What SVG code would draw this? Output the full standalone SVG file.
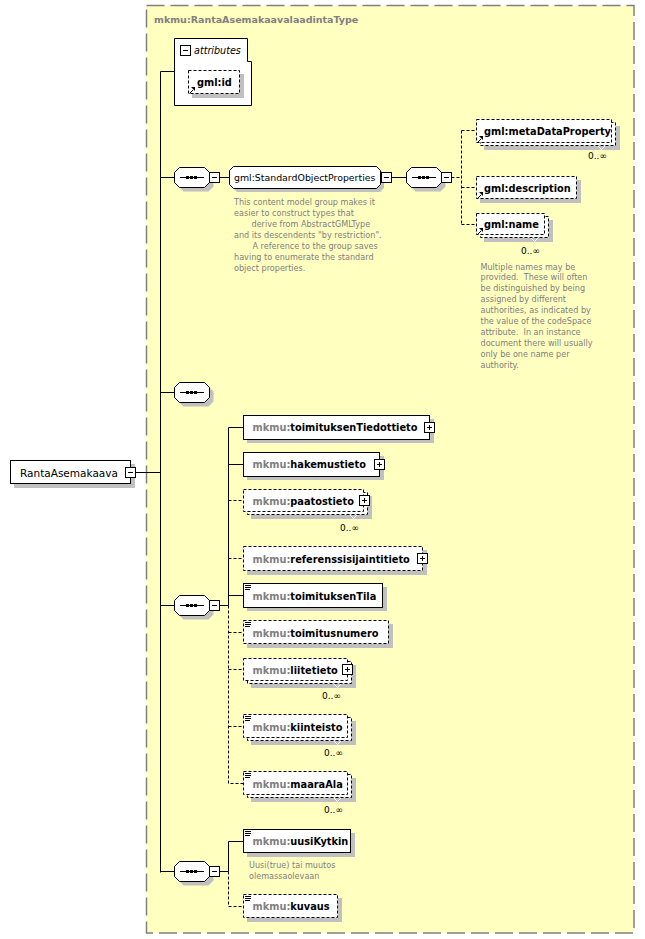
<svg xmlns="http://www.w3.org/2000/svg" xmlns:xlink="http://www.w3.org/1999/xlink" width="645" height="939" viewBox="0 0 645 939">
<style>
text{font-family:"DejaVu Sans",Verdana,sans-serif}
.lbl{font-weight:bold;font-size:9.8px;fill:#000}
.pre{fill:#808080}
.reg{font-size:9.4px;fill:#000}
.ann{font-size:8.1px;fill:#808080}
.occ{font-size:9px;fill:#000}
.box{fill:#fff;stroke:#000;stroke-width:1}
.dbox{fill:#fff;stroke:#000;stroke-width:1;stroke-dasharray:3,2}
.sh{fill:#c0c0c0}
.ln{stroke:#000;stroke-width:1;fill:none}
.dl{stroke:#000;stroke-width:1;fill:none;stroke-dasharray:3,2}
.v{stroke:#fff;stroke-width:1;fill:none}
</style>
<defs>
<g id="minus"><rect x="0.5" y="0.5" width="10" height="10" fill="#fff" stroke="#000"/><path d="M3,5.5H8" stroke="#000"/></g>
<g id="plus"><rect x="0.5" y="0.5" width="10" height="10" fill="#fff" stroke="#000"/><path d="M3,5.5H8M5.5,3V8" stroke="#000"/></g>
<g id="seq">
<polygon points="9.5,4.5 34.5,4.5 39.5,9.5 39.5,19.5 34.5,24.5 9.5,24.5 4.5,19.5 4.5,9.5" fill="#c0c0c0"/>
<polygon points="5.5,0.5 30.5,0.5 35.5,5.5 35.5,15.5 30.5,20.5 5.5,20.5 0.5,15.5 0.5,5.5" fill="#fff" stroke="#000"/>
<path d="M6,10.5H30" stroke="#000"/>
<rect x="12" y="9" width="3" height="3" fill="#000"/><rect x="16" y="9" width="3" height="3" fill="#000"/><rect x="20" y="9" width="3" height="3" fill="#000"/>
</g>
<g id="ico"><path d="M0,0.5H6M0,2.5H6M0,4.5H5" stroke="#000"/></g>
<g id="ref"><path d="M0.5,6.5L4,3" stroke="#000"/><polygon points="2,0 6,0 6,4" fill="#000"/></g>
</defs>

<rect x="146.5" y="5.5" width="487.5" height="927.5" fill="#ffffc0" stroke="#808080" stroke-width="1.5" stroke-dasharray="18,6"/>
<text x="154" y="22.5" font-size="9.5" font-weight="bold" fill="#808080">mkmu:RantaAsemakaavalaadintaType</text>

<g id="connectors">
<path class="ln" d="M160.5,71.5V872.5"/>
<path class="ln" d="M160.5,71.5H174.5"/>
<path class="ln" d="M160.5,177.5H174.5"/>
<path class="ln" d="M160.5,392.5H174.5"/>
<path class="ln" d="M135.5,472.5H160.5"/>
<path class="ln" d="M160.5,605.5H174.5"/>
<path class="ln" d="M160.5,871.5H174.5"/>
<path class="ln" d="M219.5,177.5H229.5"/>
<path class="ln" d="M391.5,177.5H406.5"/>
<path class="dl" d="M451.5,177.5H461.5"/>
<path class="dl" d="M461.5,130.5V224.5"/>
<path class="dl" d="M461.5,130.5H476.5M461.5,187.5H476.5M461.5,224.5H476.5"/>
<path class="ln" d="M219.5,605.5H228.5"/>
<path class="ln" d="M228.5,605.5V427.5H243.5M228.5,464.5H243.5M228.5,595.5H243.5"/>
<path class="dl" d="M228.5,500.5H243.5M228.5,558.5H243.5"/>
<path class="dl" d="M228.5,605.5V783.5H243.5M228.5,632.5H243.5M228.5,669.5H243.5M228.5,726.5H243.5"/>
<path class="ln" d="M219.5,871.5H228.5V841.5H243.5"/>
<path class="dl" d="M228.5,871.5V906.5H243.5"/>
</g>

<g id="root">
<rect class="sh" x="14" y="464" width="121" height="24"/>
<rect class="box" x="10.5" y="460.5" width="120" height="23"/>
<text x="20" y="476.5" font-size="10.5" fill="#000">RantaAsemakaava</text>
<use xlink:href="#minus" x="125" y="467"/>
</g>

<g id="attributes">
<polygon class="box" points="174.5,38.5 247.5,38.5 247.5,61.5 251.5,61.5 251.5,105.5 174.5,105.5"/>
<use xlink:href="#minus" x="180" y="45"/>
<text x="194" y="54" font-size="9.6" font-style="italic" fill="#000">attributes</text>
</g>
<g id="gml-id">
<rect class="sh" x="192" y="74" width="52" height="24"/>
<rect class="dbox" x="188.5" y="70.5" width="51" height="23"/>
<text class="lbl" x="197" y="85.5">gml:id</text>
<use xlink:href="#ref" x="189" y="87"/>
</g>

<g id="seq1"><use xlink:href="#seq" x="174" y="167"/><use xlink:href="#minus" x="209" y="172"/></g>

<g id="StandardObjectProperties">
<polygon class="sh" points="237,170 380,170 384,174 384,188 380,192 237,192 233,188 233,174"/>
<polygon class="box" points="233.5,166.5 376.5,166.5 380.5,170.5 380.5,184.5 376.5,188.5 233.5,188.5 229.5,184.5 229.5,170.5"/>
<text class="reg" x="234" y="181">gml:StandardObjectProperties</text>
<use xlink:href="#minus" x="381" y="172"/>
<text class="ann" x="234" y="205">This content model group makes it</text>
<text class="ann" x="234" y="216">easier to construct types that</text>
<text class="ann" x="251.5" y="227">derive from AbstractGMLType</text>
<text class="ann" x="234" y="238">and its descendents "by restriction".</text>
<text class="ann" x="252.5" y="249">A reference to the group saves</text>
<text class="ann" x="234" y="259.5">having to enumerate the standard</text>
<text class="ann" x="234" y="270.5">object properties.</text>
</g>

<g id="seq-gml"><use xlink:href="#seq" x="406" y="167"/><use xlink:href="#minus" x="441" y="172"/></g>

<g id="metaDataProperty">
<rect class="sh" x="484" y="126" width="136" height="24"/>
<rect class="dbox" x="480.5" y="122.5" width="135" height="23"/>
<rect class="dbox" x="476.5" y="119.5" width="135" height="23"/>
<text class="lbl" x="484" y="134.5">gml:metaDataProperty</text>
<use xlink:href="#ref" x="477" y="136"/>
<polyline class="v" points="598,146 601.5,149.5 605,146"/>
<text class="occ" x="588" y="159">0..∞</text>
</g>

<g id="description">
<rect class="sh" x="480" y="180" width="101" height="23"/>
<rect class="dbox" x="476.5" y="176.5" width="100" height="22"/>
<text class="lbl" x="484" y="191.5">gml:description</text>
<use xlink:href="#ref" x="477" y="192"/>
</g>

<g id="name">
<rect class="sh" x="484" y="220" width="69" height="22"/>
<rect class="dbox" x="480.5" y="216.5" width="68" height="21"/>
<rect class="dbox" x="476.5" y="213.5" width="68" height="21"/>
<text class="lbl" x="484" y="228">gml:name</text>
<use xlink:href="#ref" x="477" y="228"/>
<polyline class="v" points="531,238 534.5,241.5 538,238"/>
<text class="occ" x="521" y="254">0..∞</text>
<text class="ann" xml:space="preserve"><tspan x="480.5" y="269.5">Multiple names may be</tspan><tspan x="480.5" y="280.4">provided.  These will often</tspan><tspan x="480.5" y="291.3">be distinguished by being</tspan><tspan x="480.5" y="302.2">assigned by different</tspan><tspan x="480.5" y="313.1">authorities, as indicated by</tspan><tspan x="480.5" y="324">the value of the codeSpace</tspan><tspan x="480.5" y="334.9">attribute.  In an instance</tspan><tspan x="480.5" y="345.8">document there will usually</tspan><tspan x="480.5" y="356.7">only be one name per</tspan><tspan x="480.5" y="367.6">authority.</tspan></text>
</g>

<g id="seq-empty"><use xlink:href="#seq" x="174" y="382"/></g>

<g id="seq3"><use xlink:href="#seq" x="174" y="595"/><use xlink:href="#minus" x="209" y="600"/></g>

<g id="toimituksenTiedottieto">
<rect class="sh" x="247" y="419" width="187" height="24"/>
<rect class="box" x="243.5" y="415.5" width="186" height="24"/>
<text class="lbl" x="252.5" y="431"><tspan class="pre">mkmu:</tspan>toimituksenTiedottieto</text>
<use xlink:href="#plus" x="424" y="422"/>
</g>

<g id="hakemustieto">
<rect class="sh" x="247" y="456" width="137" height="24"/>
<rect class="box" x="243.5" y="452.5" width="136" height="24"/>
<text class="lbl" x="252.5" y="468"><tspan class="pre">mkmu:</tspan>hakemustieto</text>
<use xlink:href="#plus" x="374" y="459"/>
</g>

<g id="paatostieto">
<rect class="sh" x="251" y="496" width="121" height="23"/>
<rect class="dbox" x="247.5" y="492.5" width="120" height="22"/>
<rect class="dbox" x="243.5" y="489.5" width="120" height="22"/>
<text class="lbl" x="252.5" y="504.5"><tspan class="pre">mkmu:</tspan>paatostieto</text>
<use xlink:href="#plus" x="359" y="495"/>
<polyline class="v" points="350,515 353.5,518.5 357,515"/>
<text class="occ" x="340" y="530.5">0..∞</text>
</g>

<g id="referenssisijaintitieto">
<rect class="sh" x="247" y="550" width="180" height="25"/>
<rect class="dbox" x="243.5" y="546.5" width="179" height="24"/>
<text class="lbl" x="252.5" y="562.5"><tspan class="pre">mkmu:</tspan>referenssisijaintitieto</text>
<use xlink:href="#plus" x="417" y="553"/>
</g>

<g id="toimituksenTila">
<rect class="sh" x="247" y="587" width="140" height="24"/>
<rect class="box" x="243.5" y="583.5" width="139" height="24"/>
<use xlink:href="#ico" x="245" y="585"/>
<text class="lbl" x="252.5" y="599.5"><tspan class="pre">mkmu:</tspan>toimituksenTila</text>
</g>

<g id="toimitusnumero">
<rect class="sh" x="247" y="624" width="146" height="24"/>
<rect class="dbox" x="243.5" y="620.5" width="145" height="23"/>
<use xlink:href="#ico" x="245" y="622"/>
<text class="lbl" x="252.5" y="636.5"><tspan class="pre">mkmu:</tspan>toimitusnumero</text>
</g>

<g id="liitetieto">
<rect class="sh" x="251" y="665" width="105" height="23"/>
<rect class="dbox" x="247.5" y="661.5" width="104" height="22"/>
<rect class="dbox" x="243.5" y="658.5" width="104" height="22"/>
<text class="lbl" x="252.5" y="673.5"><tspan class="pre">mkmu:</tspan>liitetieto</text>
<use xlink:href="#plus" x="342" y="664"/>
<polyline class="v" points="334,684 337.5,687.5 341,684"/>
<text class="occ" x="322" y="698.5">0..∞</text>
</g>

<g id="kiinteisto">
<rect class="sh" x="251" y="721" width="105" height="24"/>
<rect class="dbox" x="247.5" y="717.5" width="104" height="23"/>
<rect class="dbox" x="243.5" y="714.5" width="104" height="23"/>
<use xlink:href="#ico" x="245" y="716"/>
<text class="lbl" x="252.5" y="730.5"><tspan class="pre">mkmu:</tspan>kiinteisto</text>
<polyline class="v" points="334,741 337.5,744.5 341,741"/>
<text class="occ" x="324" y="755.5">0..∞</text>
</g>

<g id="maaraAla">
<rect class="sh" x="251" y="778" width="105" height="24"/>
<rect class="dbox" x="247.5" y="774.5" width="104" height="23"/>
<rect class="dbox" x="243.5" y="771.5" width="104" height="23"/>
<use xlink:href="#ico" x="245" y="773"/>
<text class="lbl" x="252.5" y="787.5"><tspan class="pre">mkmu:</tspan>maaraAla</text>
<polyline class="v" points="334,798 337.5,801.5 341,798"/>
<text class="occ" x="324" y="812.5">0..∞</text>
</g>

<g id="seq4"><use xlink:href="#seq" x="174" y="861"/><use xlink:href="#minus" x="209" y="866"/></g>

<g id="uusiKytkin">
<rect class="sh" x="247" y="833" width="108" height="24"/>
<rect class="box" x="243.5" y="829.5" width="107" height="23"/>
<use xlink:href="#ico" x="245" y="831"/>
<text class="lbl" x="252.5" y="845"><tspan class="pre">mkmu:</tspan>uusiKytkin</text>
<text class="ann" x="249" y="868">Uusi(true) tai muutos</text>
<text class="ann" x="249" y="879">olemassaolevaan</text>
</g>

<g id="kuvaus">
<rect class="sh" x="247" y="898" width="95" height="24"/>
<rect class="dbox" x="243.5" y="894.5" width="94" height="23"/>
<use xlink:href="#ico" x="245" y="896"/>
<text class="lbl" x="252.5" y="910"><tspan class="pre">mkmu:</tspan>kuvaus</text>
</g>
</svg>
